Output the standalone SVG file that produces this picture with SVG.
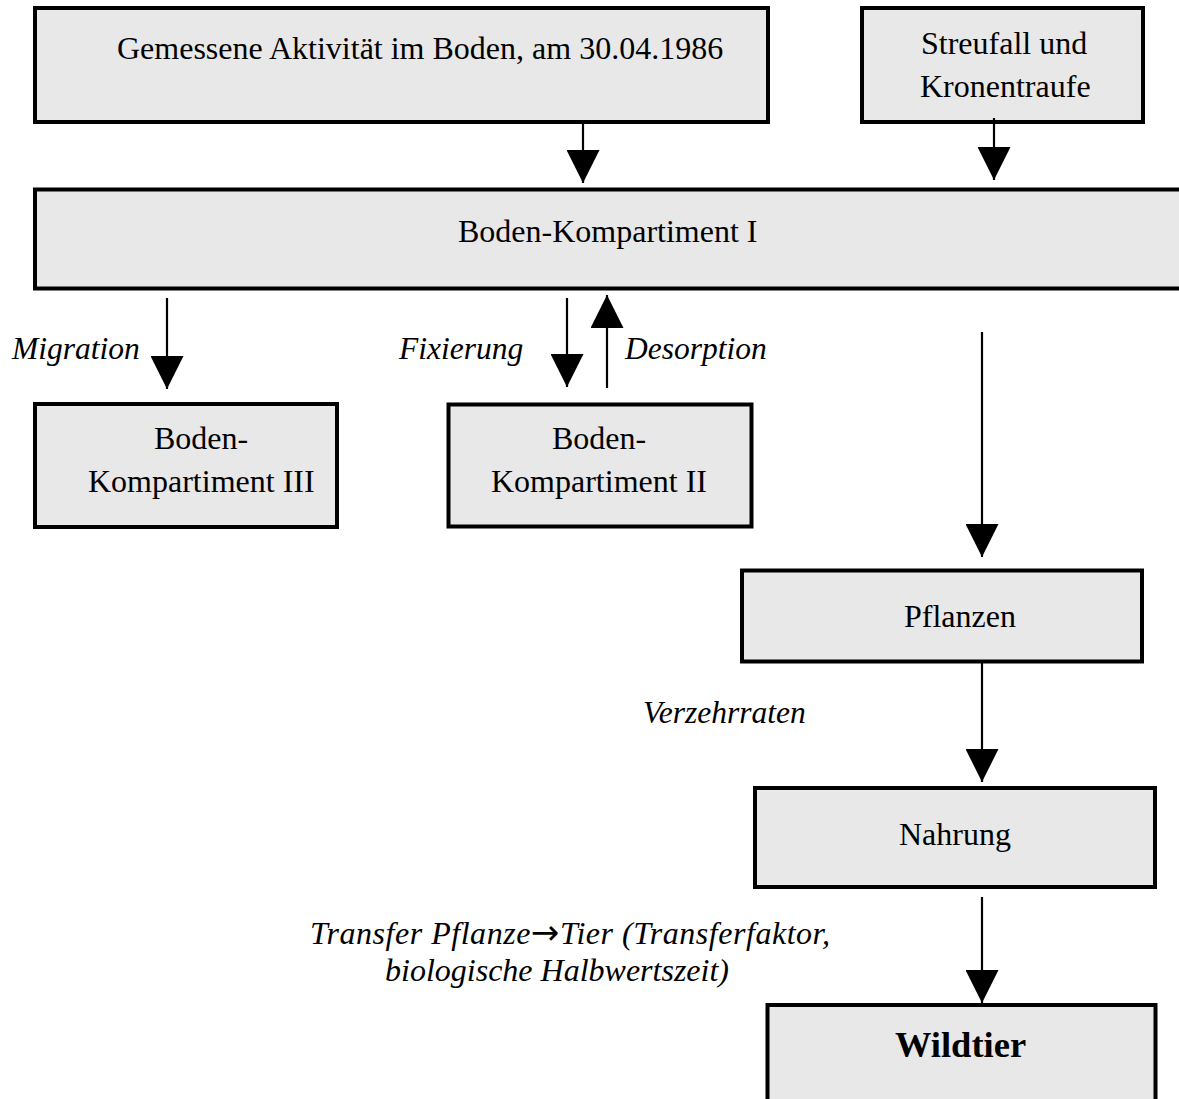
<svg xmlns="http://www.w3.org/2000/svg" width="1179" height="1099" viewBox="0 0 1179 1099">
<style>
.box{fill:#e8e8e8;stroke:#000;stroke-width:4}
.t{font-family:"Liberation Serif","Times New Roman",serif;font-size:32px;fill:#000}
.i{font-style:italic;font-size:31.5px}
.b{font-weight:bold;font-size:36.5px}
.c{stroke:#000;stroke-width:2.2;fill:none;marker-end:url(#ah)}
</style>
<defs>
<marker id="ah" markerUnits="userSpaceOnUse" markerWidth="33" markerHeight="33" viewBox="0 0 33 33" refX="33" refY="16.5" orient="auto">
<path d="M0,0 L33,16.5 L0,33 Z" fill="#000"/>
</marker>
</defs>
<rect width="1179" height="1099" fill="#fff"/>
<g id="n-gemessen">
<rect class="box" x="35" y="8" width="733" height="114"/>
<text class="t" x="117" y="59">Gemessene Aktivität im Boden, am 30.04.1986</text>
</g>
<g id="n-streufall">
<rect class="box" x="862" y="8" width="281" height="114"/>
<text class="t" x="921" y="54">Streufall und</text>
<text class="t" x="920" y="97">Kronentraufe</text>
</g>
<g id="n-boden1">
<rect class="box" x="35" y="189.5" width="1160" height="99"/>
<text class="t" x="458" y="242">Boden-Kompartiment I</text>
</g>
<g id="n-boden3">
<rect class="box" x="35" y="404" width="302" height="123"/>
<text class="t" x="154" y="449">Boden-</text>
<text class="t" x="88" y="492">Kompartiment III</text>
</g>
<g id="n-boden2">
<rect class="box" x="448.5" y="404.5" width="303" height="122"/>
<text class="t" x="552" y="449">Boden-</text>
<text class="t" x="491" y="492">Kompartiment II</text>
</g>
<g id="n-pflanzen">
<rect class="box" x="742" y="570.5" width="400" height="91"/>
<text class="t" x="904" y="627">Pflanzen</text>
</g>
<g id="n-nahrung">
<rect class="box" x="755" y="788" width="400" height="99"/>
<text class="t" x="899" y="845">Nahrung</text>
</g>
<g id="n-wildtier">
<rect class="box" x="767.5" y="1005" width="388" height="130"/>
<text class="t b" x="895" y="1057">Wildtier</text>
</g>
<g id="connectors">
<line class="c" x1="583" y1="122" x2="583" y2="183"/>
<line class="c" x1="994" y1="118" x2="994" y2="180"/>
<line class="c" x1="167" y1="298" x2="167" y2="389"/>
<line class="c" x1="567" y1="298" x2="567" y2="387"/>
<line class="c" x1="607" y1="388" x2="607" y2="295"/>
<line class="c" x1="982" y1="332" x2="982" y2="557"/>
<line class="c" x1="982" y1="663" x2="982" y2="782"/>
<line class="c" x1="982" y1="897" x2="982" y2="1003"/>
<text class="t i" x="12" y="359">Migration</text>
<text class="t i" x="399" y="359">Fixierung</text>
<text class="t i" x="625" y="359">Desorption</text>
<text class="t i" x="643" y="723">Verzehrraten</text>
<text class="t i" x="310" y="944" style="font-size:32px" textLength="520" lengthAdjust="spacing">Transfer Pflanze<tspan style="font-family:'DejaVu Sans',sans-serif;font-style:normal;font-size:34px">→</tspan>Tier (Transferfaktor,</text>
<text class="t i" x="385" y="981" style="font-size:32px">biologische Halbwertszeit)</text>
</g>
</svg>
